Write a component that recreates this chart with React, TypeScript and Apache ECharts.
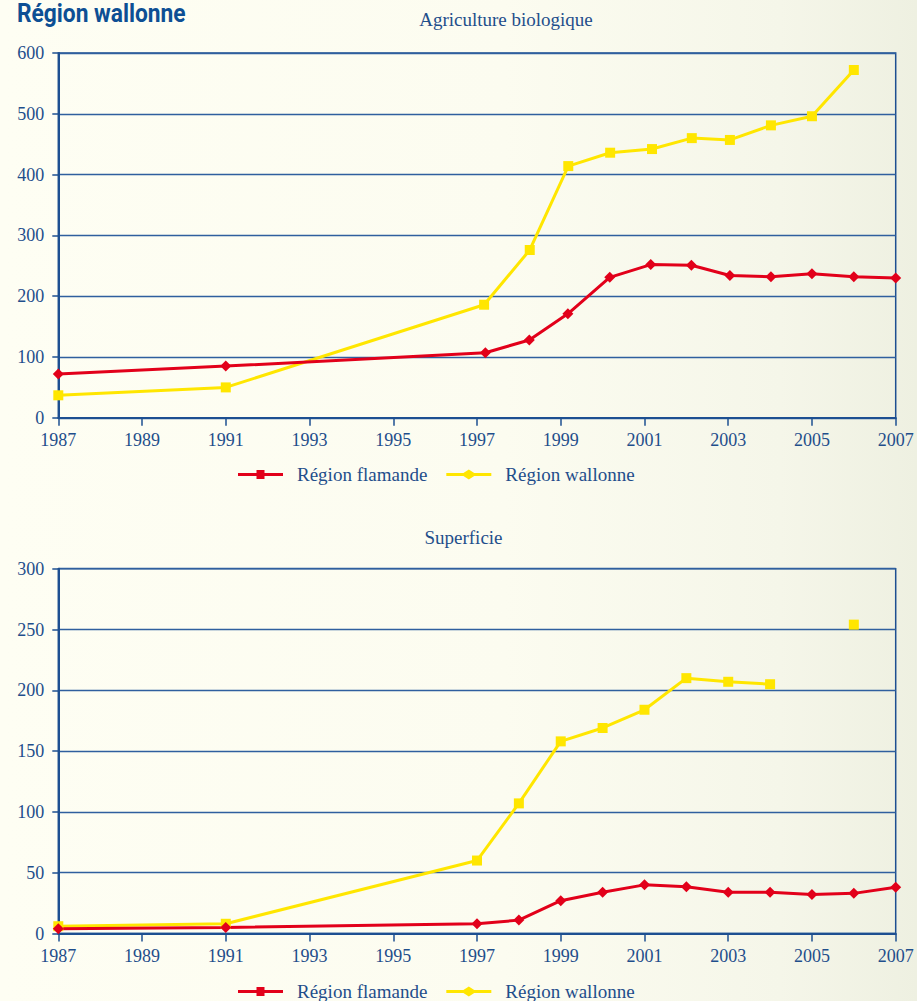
import React, { useEffect, useRef } from "react";
import * as echarts from "echarts";

// ---- Data: Agriculture biologique (number of farms) ----
const bioFlamandeYears = [1987, 1991, 1997.2, 1998.25, 1999.17, 2000.17, 2001.15, 2002.12, 2003.04, 2004.02, 2005.0, 2006.0, 2007];
const bioFlamandeValues = [72, 85, 107, 128, 171, 231, 252, 251, 234, 232, 237, 232, 230];
const bioWallonneYears = [1987, 1991, 1997.17, 1998.26, 1999.18, 2000.18, 2001.18, 2002.13, 2003.04, 2004.02, 2005.0, 2006.0];
const bioWallonneValues = [37, 50, 186, 276, 414, 436, 442, 460, 457, 481, 496, 572];

// ---- Data: Superficie ----
const supYears = [1987, 1991, 1997, 1998, 1999, 2000, 2001, 2002, 2003, 2004, 2005, 2006, 2007];
const supFlamandeValues = [4, 5, 8, 11, 27, 34, 40, 38.5, 34, 34, 32, 33, 38];
const supWallonneValues: (number | null)[] = [6, 8, 60, 107, 158, 169, 184, 210, 207, 205, null, 254, null];

const seriesNames = ["Région flamande", "Région wallonne"];
const chartTitles = ["Agriculture biologique", "Superficie"];
const pageTitle = "Région wallonne";

const RED = "#e2001a";
const YELLOW = "#ffe600";
const BLUE = "#1d4f91";
const GRID = "#2f5f9e";
const TEXT = "#1f4e8b";
const SERIF = "'Liberation Serif', 'Times New Roman', serif";

const zip = (xs: number[], ys: (number | null)[]) => xs.map((x, i) => [x, ys[i]]);

export default function App() {
  const ref = useRef<HTMLDivElement>(null);
  useEffect(() => {
    if (!ref.current) return;
    const chart = echarts.init(ref.current, undefined, { renderer: "svg" });
    const gridLeft = 58.3;
    const gridRight = 917 - 895.7;
    const gridH = 364.8;
    const xAxisBase = (gridIndex: number) => ({
      type: "value" as const,
      gridIndex,
      min: 1987,
      max: 2007,
      interval: 2,
      axisLine: { show: true, lineStyle: { color: BLUE, width: 2 } },
      axisTick: { show: true, length: 8, lineStyle: { color: BLUE, width: 1.5 } },
      axisLabel: { color: TEXT, fontFamily: SERIF, fontSize: 18, margin: 13, formatter: (v: number) => String(v) },
      splitLine: { show: false },
    });
    const yAxisBase = (gridIndex: number, max: number, interval: number) => ({
      type: "value" as const,
      gridIndex,
      min: 0,
      max,
      interval,
      axisLine: { show: true, lineStyle: { color: BLUE, width: 2 } },
      axisTick: { show: true, length: 6, lineStyle: { color: BLUE, width: 1.5 } },
      axisLabel: { color: TEXT, fontFamily: SERIF, fontSize: 18, margin: 14, padding: [0, 0, 10, 0] },
      splitLine: { show: true, lineStyle: { color: GRID, width: 1.3 } },
    });
    const redIcon = "path://M0,3.5H18.5V0.5H26.5V3.5H45V6.5H26.5V9.5H18.5V6.5H0Z";
    const yellowIcon = "path://M0,3.5H17.5L23,0L28.5,3.5H46V6.5H28.5L23,10L17.5,6.5H0Z";
    const legendBase = (top: number) => ({
      left: 233,
      top,
      orient: "horizontal" as const,
      itemWidth: 45,
      itemHeight: 10,
      itemGap: 19,
      selectedMode: false,
      textStyle: { color: TEXT, fontFamily: SERIF, fontSize: 19, padding: [0, 0, 0, 9] },
      itemStyle: { borderWidth: 0 },
      data: [
        { name: seriesNames[0], icon: redIcon },
        { name: seriesNames[1], icon: yellowIcon },
      ],
    });
    const lineSeries = (name: string, color: string, symbol: string, size: number, data: any[], xi: number) => ({
      name,
      type: "line" as const,
      xAxisIndex: xi,
      yAxisIndex: xi,
      data,
      symbol,
      symbolSize: size,
      showSymbol: true,
      connectNulls: false,
      lineStyle: { color, width: 3 },
      itemStyle: { color, borderWidth: 0 },
    });
    chart.setOption({
      animation: false,
      backgroundColor: "transparent",
      grid: [
        { left: gridLeft, right: gridRight, top: 53, height: gridH, show: true, borderColor: BLUE, borderWidth: 1.5, backgroundColor: "transparent" },
        { left: gridLeft, right: gridRight, top: 568.7, height: gridH, show: true, borderColor: BLUE, borderWidth: 1.5, backgroundColor: "transparent" },
      ],
      xAxis: [xAxisBase(0), xAxisBase(1)],
      yAxis: [yAxisBase(0, 600, 100), yAxisBase(1, 300, 50)],
      legend: [legendBase(460), legendBase(977)],
      graphic: [
        {
          type: "text",
          x: 17,
          y: 14,
          scaleX: 0.91,
          style: { text: pageTitle, fontSize: 25, fontWeight: "bold", fontFamily: "Roboto, 'Liberation Sans', sans-serif", fill: "#0d4f94", textVerticalAlign: "middle" },
        },
        {
          type: "text",
          x: 506,
          y: 19,
          style: { text: chartTitles[0], fontSize: 19, fontFamily: SERIF, fill: TEXT, textAlign: "center", textVerticalAlign: "middle" },
        },
        {
          type: "text",
          x: 463.5,
          y: 537,
          style: { text: chartTitles[1], fontSize: 19, fontFamily: SERIF, fill: TEXT, textAlign: "center", textVerticalAlign: "middle" },
        },
      ],
      series: [
        lineSeries(seriesNames[1], YELLOW, "rect", 10, zip(bioWallonneYears, bioWallonneValues), 0),
        lineSeries(seriesNames[0], RED, "diamond", 11, zip(bioFlamandeYears, bioFlamandeValues), 0),
        lineSeries(seriesNames[1], YELLOW, "rect", 10, zip(supYears, supWallonneValues), 1),
        lineSeries(seriesNames[0], RED, "diamond", 11, zip(supYears, supFlamandeValues), 1),
      ],
    });
    return () => chart.dispose();
  }, []);
  return (
    <div
      ref={ref}
      style={{
        position: "fixed",
        left: 0,
        top: 0,
        width: 917,
        height: 1001,
        background: "linear-gradient(to right, #fefef3 0%, #fcfcf0 55%, #f5f6e9 85%, #eef0e1 100%)",
      }}
    />
  );
}
